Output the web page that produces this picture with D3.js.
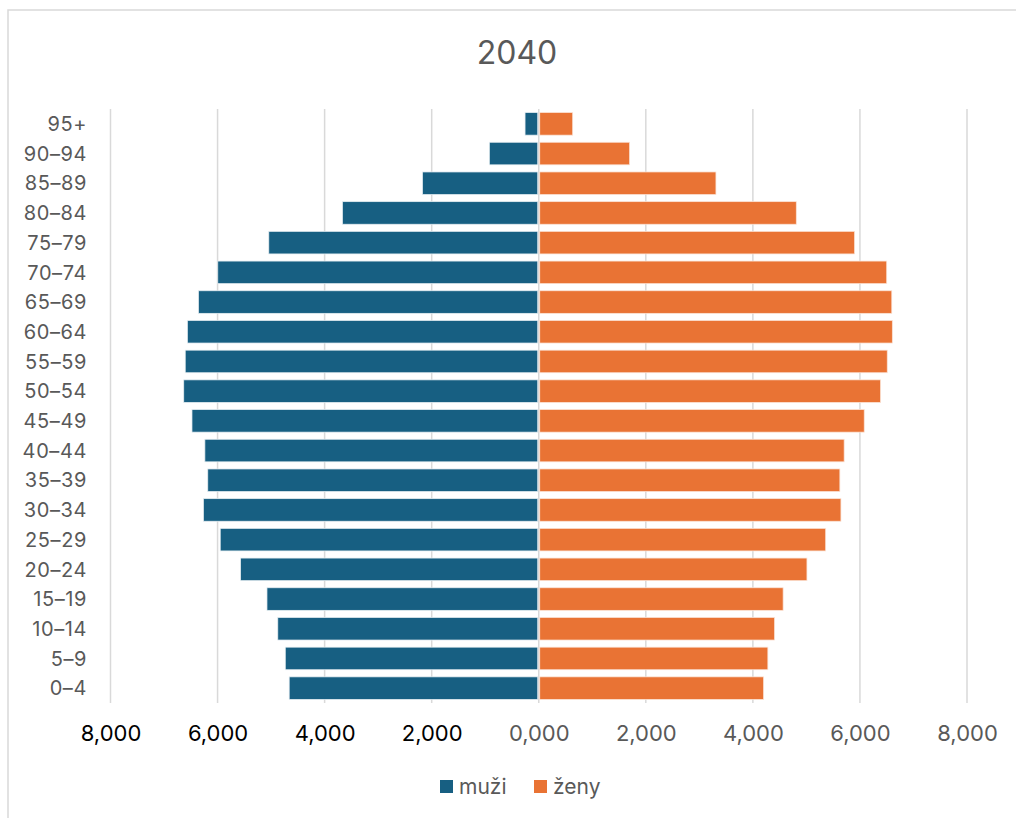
<!DOCTYPE html>
<html><head><meta charset="utf-8">
<script src="https://cdn.jsdelivr.net/npm/d3@7"></script>
<style>body{margin:0;background:#fff;}svg{display:block;font-family:Inter,"Liberation Sans",Arial,sans-serif;}</style>
</head><body><svg id="c" width="1016" height="818"></svg>
<script>
const categories = ["95+","90–94","85–89","80–84","75–79","70–74","65–69","60–64","55–59","50–54","45–49","40–44","35–39","30–34","25–29","20–24","15–19","10–14","5–9","0–4"];
const muzi = [256,923,2172,3667,5043,5996,6357,6564,6604,6632,6478,6237,6183,6264,5950,5570,5077,4875,4735,4662];
const zeny = [634,1697,3310,4811,5900,6500,6595,6605,6510,6385,6080,5705,5625,5645,5360,5010,4565,4405,4280,4200];
const tickValues = [-8000,-6000,-4000,-2000,0,2000,4000,6000,8000];
const tickLabels = ["8,000","6,000","4,000","2,000","0,000","2,000","4,000","6,000","8,000"];
const seriesNames = ["muži","ženy"];
const colors = ["#175f82","#e97334"];

const svg = d3.select("#c");
svg.append("rect").attr("x",8).attr("y",10).attr("width",1030).attr("height",830)
  .attr("fill","#fff").attr("stroke","#d9d9d9").attr("stroke-width",1.5);

const x = d3.scaleLinear().domain([-8000,8000]).range([110.5,967]);
const y = d3.scaleBand().domain(categories).range([109,703]).paddingInner(0.24).paddingOuter(0.12);

// gridlines
svg.append("g").selectAll("line").data(tickValues).join("line")
  .attr("x1",d=>x(d)).attr("x2",d=>x(d)).attr("y1",109).attr("y2",703)
  .attr("stroke","#d9d9d9").attr("stroke-width",1.5);

// bars
svg.append("g").selectAll("rect").data(categories).join("rect")
  .attr("x",(d,i)=>x(-muzi[i])).attr("width",(d,i)=>x(0)-x(-muzi[i])-1)
  .attr("y",d=>y(d)).attr("height",y.bandwidth())
  .attr("fill",colors[0]).attr("stroke","#e6eef2").attr("stroke-width",0.75);
svg.append("g").selectAll("rect").data(categories).join("rect")
  .attr("x",x(0)+1).attr("width",(d,i)=>x(zeny[i])-x(0)-1)
  .attr("y",d=>y(d)).attr("height",y.bandwidth())
  .attr("fill",colors[1]).attr("stroke","#fbe3d6").attr("stroke-width",0.75);

// y labels
svg.append("g").selectAll("text").data(categories).join("text")
  .attr("x",87).attr("y",d=>y(d)+y.bandwidth()/2).attr("dy","0.36em")
  .attr("text-anchor","end").attr("font-size",20).attr("letter-spacing","0.6px")
  .attr("fill","#595959").text(d=>d);

// x tick labels
const xAxis = d3.axisBottom(x).tickValues(tickValues).tickFormat((d,i)=>tickLabels[i]).tickSize(0).tickPadding(0);
const gx = svg.append("g").attr("transform","translate(0,725)").call(xAxis);
gx.select(".domain").remove();
gx.selectAll("text").attr("font-size",22).attr("font-family","Inter, Liberation Sans, Arial, sans-serif")
  .attr("fill",d=>d<0?"#000":"#595959");

// title
svg.append("text").attr("x",517).attr("y",64).attr("text-anchor","middle")
  .attr("font-size",32).attr("fill","#595959").text("2040");

// legend
const leg = svg.append("g");
const legX = [440,534];
seriesNames.forEach((n,i)=>{
  leg.append("rect").attr("x",legX[i]).attr("y",780).attr("width",13).attr("height",13).attr("fill",colors[i]);
  leg.append("text").attr("x",legX[i]+19).attr("y",786).attr("dy","0.36em")
    .attr("font-size",21).attr("fill","#595959").text(n);
});
</script></body></html>
